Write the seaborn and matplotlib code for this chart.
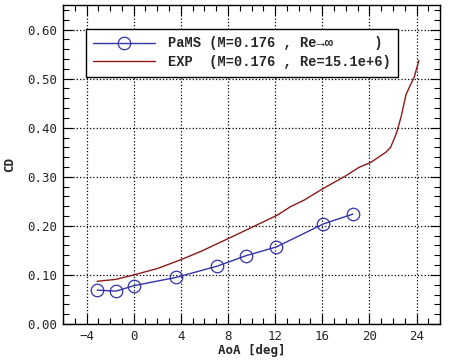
import numpy
import seaborn
import matplotlib.pyplot as plt
from matplotlib.ticker import MultipleLocator, FormatStrFormatter


# PaMS computation (M=0.176, Re -> inf)
pams_aoa = [-3.1, -1.5, 0.0, 3.6, 7.1, 9.5, 12.1, 16.1, 18.6]
pams_cd = [0.069, 0.067, 0.078, 0.095, 0.118, 0.139, 0.157, 0.204, 0.224]

# experiment (M=0.176, Re=15.1e+6)
exp_aoa = [-3.1, -1.5, 0.0, 2.0, 4.0, 5.7, 8.1, 10.2, 12.2, 13.3, 14.5, 16.0, 18.0,
           19.1, 20.1, 21.4, 21.8, 22.3, 22.7, 23.1, 23.5, 23.8, 24.2]
exp_cd = [0.087, 0.091, 0.100, 0.113, 0.131, 0.148, 0.175, 0.199, 0.222, 0.239, 0.253,
          0.275, 0.302, 0.319, 0.329, 0.350, 0.360, 0.389, 0.423, 0.467, 0.488, 0.503, 0.537]

blue = '#3333aa'
red = '#8b1a1a'

seaborn.set_style('ticks')
plt.rcParams['font.family'] = ['DejaVu Sans Mono', 'DejaVu Sans']

fig = plt.figure(figsize=(4.5, 3.6), dpi=100)
ax = fig.add_axes([0.14, 0.1, 0.838, 0.886])

seaborn.lineplot(x=pams_aoa, y=pams_cd, ax=ax, color=blue, lw=1.0, marker='o',
                 markersize=9, markerfacecolor='none', markeredgecolor=blue,
                 markeredgewidth=0.9, label='PaMS (M=0.176 , Re\u2192\u221e     )')
seaborn.lineplot(x=exp_aoa, y=exp_cd, ax=ax, color=red, lw=1.0,
                 label='EXP  (M=0.176 , Re=15.1e+6)')

ax.set_xlim(-6, 26)
ax.set_ylim(0, 0.65)
ax.xaxis.set_major_locator(MultipleLocator(4))
ax.xaxis.set_minor_locator(MultipleLocator(1))
ax.yaxis.set_major_locator(MultipleLocator(0.1))
ax.yaxis.set_minor_locator(MultipleLocator(0.02))
ax.yaxis.set_major_formatter(FormatStrFormatter('%.2f'))
ax.tick_params(which='both', direction='in', top=True, right=True, labelsize=9,
               color='black', width=0.8)
ax.tick_params(which='major', length=7, pad=4)
ax.tick_params(which='minor', length=4)
ax.grid(True, which='major', linestyle=':', color='black', lw=0.9)
for spine in ax.spines.values():
    spine.set_linewidth(1.0)
    spine.set_color('black')

ax.set_xlabel('AoA [deg]', fontsize=9, fontweight='bold', labelpad=1)
ax.set_ylabel('CD', fontsize=9, fontweight='bold', labelpad=8)

leg = ax.legend(loc='upper left', bbox_to_anchor=(0.042, 0.947), frameon=True,
                fancybox=False, edgecolor='black', framealpha=1, numpoints=1,
                handlelength=4.5, handletextpad=0.9, borderpad=0.55, labelspacing=0.35,
                prop={'family': ['Liberation Mono', 'DejaVu Sans Mono'],
                      'weight': 'bold', 'size': 9.9})
leg.get_frame().set_linewidth(1.0)

fig.savefig('out.png', dpi=100)
